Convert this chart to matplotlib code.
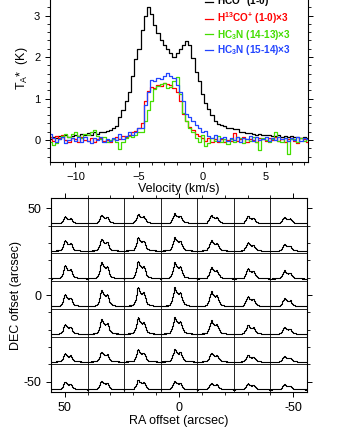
import numpy as np
import matplotlib
matplotlib.use("Agg")
import matplotlib.pyplot as plt
from matplotlib.ticker import MultipleLocator

plt.rcParams["font.family"] = ["Liberation Sans", "DejaVu Sans"]
plt.rcParams["mathtext.default"] = "regular"

# velocity channels (km/s), 0.25 km/s wide
vel = np.arange(-12.0, 8.5, 0.25)

hco = [0.02, 0.08, 0.05, 0.10, 0.06, 0.12, 0.08, 0.10, 0.13, 0.09,
       0.14, 0.12, 0.16, 0.13, 0.18, 0.15, 0.20, 0.18, 0.22, 0.25,
       0.30, 0.33, 0.55, 0.72, 0.95, 1.15, 1.55, 1.95, 2.20, 2.65,
       3.00, 3.22, 3.05, 2.78, 2.58, 2.42, 2.30, 2.20, 2.10, 2.00,
       2.10, 2.20, 2.28, 2.38, 2.30, 1.98, 1.65, 1.42, 1.10, 0.90,
       0.75, 0.60, 0.45, 0.38, 0.35, 0.33, 0.30, 0.28, 0.26, 0.27,
       0.20, 0.18, 0.16, 0.17, 0.14, 0.13, 0.15, 0.12, 0.11, 0.13,
       0.10, 0.09, 0.11, 0.08, 0.10, 0.07, 0.09, 0.06, 0.08, 0.05,
       0.07, 0.04]

h13co = [0.08, -0.02, 0.10, 0.04, 0.12, 0.00, -0.05, 0.05, 0.02, -0.04,
         0.06, 0.00, -0.03, 0.04, -0.06, 0.02, 0.05, -0.02, 0.00, -0.05,
         0.03, 0.06, 0.02, 0.10, 0.08, 0.12, 0.18, 0.22, 0.30, 0.42,
         0.95, 1.18, 1.28, 1.25, 1.32, 1.30, 1.38, 1.35, 1.32, 1.25,
         1.15, 0.95, 0.62, 0.45, 0.32, 0.25, 0.15, 0.10, 0.05, -0.02,
         0.04, -0.05, 0.02, -0.06, 0.03, -0.04, 0.01, -0.02, 0.16, -0.03,
         0.02, 0.06, -0.04, 0.03, 0.00, -0.05, 0.04, 0.02, -0.03, 0.05,
         0.00, 0.06, -0.02, 0.03, -0.05, 0.02, 0.04, -0.03, -0.08, 0.05,
         0.02, -0.04]

hc3n_1413 = [-0.05, -0.12, -0.08, 0.02, 0.10, 0.15, 0.08, 0.14, 0.18, 0.10,
             0.05, 0.15, 0.12, 0.20, 0.25, 0.10, 0.02, 0.06, -0.05, 0.00,
             0.02, -0.04, -0.22, -0.05, 0.05, 0.10, 0.08, 0.12, 0.18, 0.20,
             0.45, 0.72, 0.95, 1.22, 1.30, 1.36, 1.38, 1.25, 1.28, 1.42,
             1.52, 1.10, 0.65, 0.45, 0.30, 0.20, 0.05, -0.05, 0.12, -0.15,
             -0.08, 0.05, -0.02, 0.10, -0.06, 0.03, -0.10, 0.02, -0.04, 0.06,
             0.05, -0.08, 0.02, -0.02, 0.08, -0.05, -0.25, 0.04, 0.00, -0.06,
             0.03, 0.18, -0.02, -0.05, 0.05, -0.35, 0.03, 0.02, -0.04, 0.05,
             -0.02, 0.03]

hc3n_1514 = [0.15, 0.05, -0.05, 0.02, 0.08, -0.08, 0.00, 0.05, -0.03, 0.06,
             -0.05, 0.08, -0.02, -0.08, 0.04, 0.00, 0.06, -0.04, 0.02, -0.02,
             0.05, 0.00, 0.15, 0.03, 0.10, 0.18, 0.12, 0.20, 0.28, 0.30,
             0.85, 1.15, 1.45, 1.42, 1.50, 1.48, 1.55, 1.62, 1.55, 1.50,
             1.32, 1.15, 0.95, 0.62, 0.55, 0.45, 0.35, 0.30, 0.18, 0.22,
             0.10, 0.05, 0.12, -0.02, 0.04, 0.08, -0.03, 0.05, 0.00, 0.06,
             -0.04, 0.05, 0.02, 0.10, -0.02, 0.06, 0.00, 0.03, 0.08, -0.02,
             0.04, 0.00, 0.06, 0.02, 0.05, -0.03, 0.04, 0.00, 0.06, -0.02,
             0.05, 0.02]

labels = ["HCO$^{+}$ (1-0)", "H$^{13}$CO$^{+}$ (1-0)×3",
          "HC$_{3}$N (14-13)×3", "HC$_{3}$N (15-14)×3"]
colors = ["black", "red", "#44dd00", "#2244ff"]

# map grid: offsets (arcsec) and peak HCO+ intensity (K) per position
ra_offsets = [48, 32, 16, 0, -16, -32, -48]
dec_offsets = [48, 32, 16, 0, -16, -32, -48]
peak_grid = [
    [1.15, 1.38, 1.54, 1.65, 1.38, 1.27, 1.10],
    [1.76, 2.04, 2.31, 2.31, 1.87, 1.43, 1.21],
    [2.20, 2.75, 2.92, 2.75, 1.93, 1.76, 1.38],
    [1.98, 2.75, 3.19, 3.19, 2.53, 1.71, 1.38],
    [1.65, 2.48, 2.75, 2.86, 2.31, 1.54, 1.21],
    [1.43, 1.71, 2.09, 2.20, 1.54, 1.16, 0.94],
    [1.32, 1.49, 1.65, 1.49, 1.16, 1.05, 0.88],
]

fig = plt.figure(figsize=(3.4, 4.4), dpi=100)

# ---- top panel: spectra at the centre
ax1 = fig.add_axes([0.147, 0.632, 0.759, 0.389])
for y, c, lab in zip([hco, h13co, hc3n_1413, hc3n_1514], colors, labels):
    ax1.step(vel, y, where="mid", color=c, lw=0.9, label=lab)
ax1.set_xlim(-12, 8.3)
ax1.set_ylim(-0.53, 3.6)
ax1.xaxis.set_major_locator(MultipleLocator(5))
ax1.xaxis.set_minor_locator(MultipleLocator(1))
ax1.yaxis.set_major_locator(MultipleLocator(1))
ax1.yaxis.set_minor_locator(MultipleLocator(0.2))
ax1.tick_params(which="both", direction="out", right=True, labelsize=8)
ax1.tick_params(which="major", length=3.5, width=0.7)
ax1.tick_params(which="minor", length=2, width=0.6)
ax1.set_xlabel("Velocity (km/s)", fontsize=9, labelpad=1)
ax1.set_ylabel("T$_A$*  (K)", fontsize=9)
ax1.yaxis.set_label_coords(-0.078, 0.55)
leg = ax1.legend(loc="upper left", bbox_to_anchor=(0.575, 1.022), frameon=False,
                 prop={"family": ["Liberation Sans Narrow", "Liberation Sans"],
                       "size": 7.2, "weight": "bold"},
                 handlelength=0.8, handletextpad=0.4, borderpad=0.2,
                 labelspacing=0.14, labelcolor="linecolor")
for s in ax1.spines.values():
    s.set_linewidth(0.8)

# ---- bottom panel: spectral map
ax2 = fig.add_axes([0.150, 0.109, 0.753, 0.441])
vrange = vel[-1] - vel[0]
k_to_arcsec = 3.5
for i, dec in enumerate(dec_offsets):
    for j, ra in enumerate(ra_offsets):
        scale = peak_grid[i][j] / max(hco)
        xs = ra + 8 - (vel - vel[0]) / vrange * 16
        ys = dec - 6.6 + np.array(hco) * scale * k_to_arcsec
        ax2.step(xs, ys, where="mid", color="black", lw=0.8)
for b in np.arange(-40, 41, 16):
    ax2.axvline(b, color="black", lw=0.6)
    ax2.axhline(b, color="black", lw=0.6)
ax2.set_xlim(56, -56)
ax2.set_ylim(-56, 56)
ax2.set_xticks([50, 0, -50])
ax2.set_yticks([-50, 0, 50])
ax2.set_xticklabels(["50", "0", "-50"])
ax2.set_yticklabels(["-50", "0", "50"])
ax2.xaxis.set_minor_locator(MultipleLocator(10))
ax2.yaxis.set_minor_locator(MultipleLocator(10))
ax2.tick_params(which="both", direction="out", top=True, right=True, labelsize=9)
ax2.tick_params(which="major", length=3.5, width=0.7)
ax2.tick_params(which="minor", length=2, width=0.6)
ax2.set_xlabel("RA offset (arcsec)", fontsize=9, labelpad=1)
ax2.set_ylabel("DEC offset (arcsec)", fontsize=9)
ax2.yaxis.set_label_coords(-0.113, 0.5)
for s in ax2.spines.values():
    s.set_linewidth(0.8)

fig.savefig("out.png", dpi=100)
